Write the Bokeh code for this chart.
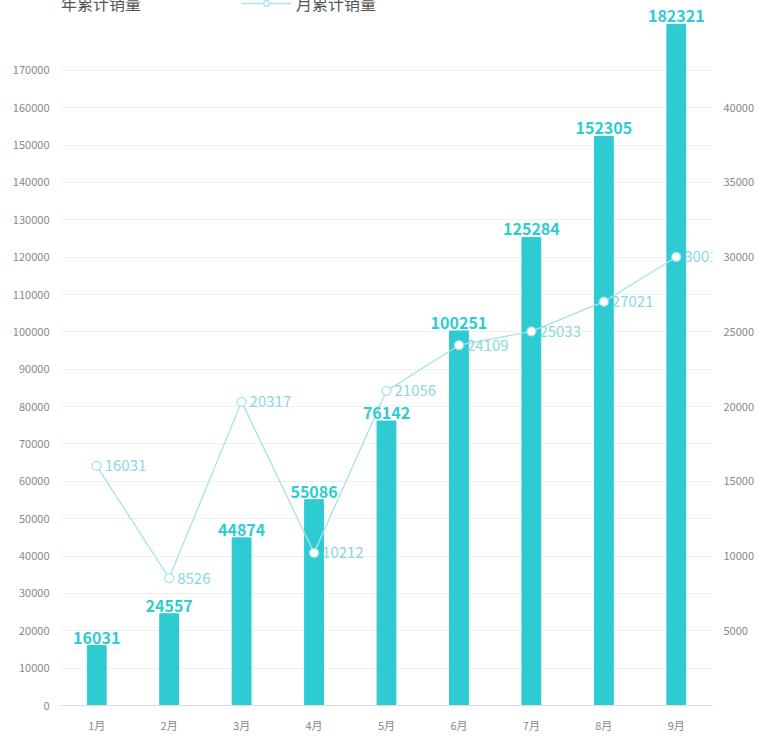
from bokeh.plotting import figure
from bokeh.models import Range1d, LinearAxis, Legend, LegendItem, ColumnDataSource, FixedTicker, NumeralTickFormatter
from bokeh.core.properties import value
from bokeh.embed import file_html
from bokeh.resources import INLINE

months = ["1月","2月","3月","4月","5月","6月","7月","8月","9月"]
yearly = [16031, 24557, 44874, 55086, 76142, 100251, 125284, 152305, 182321]
monthly = [16031, 8526, 20317, 10212, 21056, 24109, 25033, 27021, 30016]

F = "Noto Sans CJK SC"
BAR = "#2ecbd3"
LINE = "#a6e3e6"
LBL = "#8ad8dc"

src = ColumnDataSource(dict(x=months, y=yearly, m=monthly,
                            ys=[str(v) for v in yearly], ms=[str(v) for v in monthly]))

p = figure(width=759, height=735, x_range=months, y_range=Range1d(0, 188700),
           output_backend="svg", toolbar_location=None,
           min_border_left=60, min_border_right=47, min_border_top=0, min_border_bottom=30)
p.extra_y_ranges = {"r": Range1d(0, 47175)}
p.outline_line_color = None
p.background_fill_color = "white"

bars = p.vbar(x="x", top="y", width=0.26, source=src, color=BAR)
ln = p.line(x="x", y="m", source=src, y_range_name="r", color=LINE, line_width=1.3)
pts = p.scatter(x="x", y="m", source=src, y_range_name="r", size=9,
                fill_color="white", line_color=LINE, line_width=1.3)

p.text(x="x", y="y", text="ys", source=src, text_font=value(F), text_font_size="16px",
       text_font_style="bold", text_color=BAR, text_align="center", text_baseline="bottom", y_offset=-2)
p.text(x="x", y="m", text="ms", source=src, y_range_name="r", text_font=value(F),
       text_font_size="15px", text_color=LBL, text_align="left", text_baseline="middle", x_offset=8)

p.yaxis.ticker = FixedTicker(ticks=list(range(0, 180000, 10000)))
p.yaxis.formatter = NumeralTickFormatter(format="0")
ra = LinearAxis(y_range_name="r", ticker=FixedTicker(ticks=list(range(5000, 45000, 5000))),
                formatter=NumeralTickFormatter(format="0"))
p.add_layout(ra, "right")
for ax in [p.yaxis[0], ra, p.xaxis[0]]:
    ax.axis_line_color = None
    ax.major_tick_line_color = None
    ax.minor_tick_line_color = None
    ax.major_label_text_font = F
    ax.major_label_text_font_size = "11px"
    ax.major_label_text_color = "#888888"
p.xaxis.axis_line_color = "#dddddd"
p.xgrid.grid_line_color = None
p.ygrid.grid_line_color = "#f0f0f0"

leg = Legend(items=[LegendItem(label="年累计销量", renderers=[bars]),
                    LegendItem(label="月累计销量", renderers=[ln, pts])],
             orientation="horizontal", location=(-54, 690), border_line_color=None,
             background_fill_alpha=0,
             label_text_font=F, label_text_font_size="16px", label_text_color="#555555",
             glyph_width=50, glyph_height=14, spacing=100, margin=0, padding=4)
p.add_layout(leg)

open("out.html", "w").write(file_html(p, INLINE))
